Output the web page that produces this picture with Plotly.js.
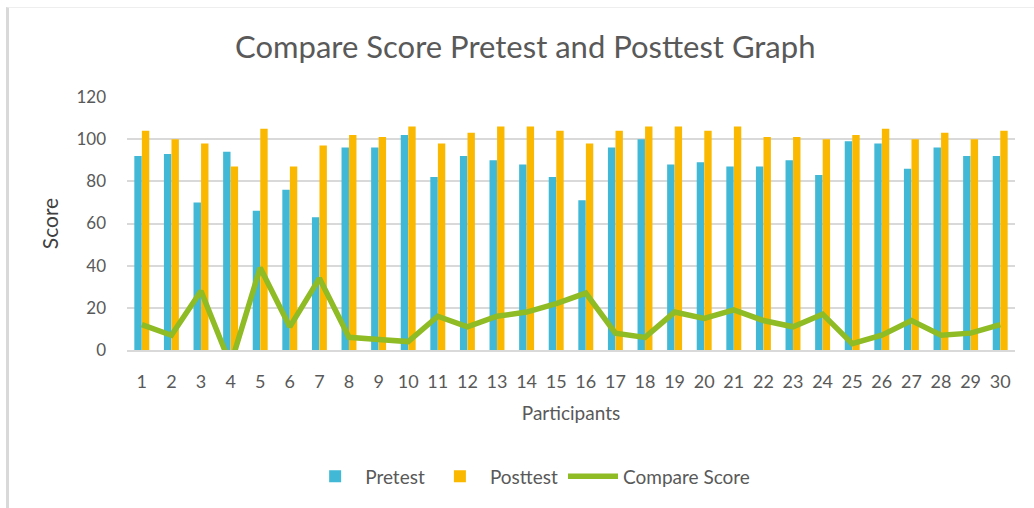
<!DOCTYPE html>
<html>
<head>
<meta charset="utf-8">
<script src="https://cdn.plot.ly/plotly-3.0.1.min.js"></script>
<style>
html, body { margin: 0; padding: 0; background: #ffffff; }
#frame { position: absolute; left: 6px; top: 7px; width: 1040px; height: 520px; border-left: 3px solid #d9d9d9; border-top: 1px solid #eeeeee; pointer-events: none; }
#chart { width: 1034px; height: 508px; }
</style>
</head>
<body>
<div id="chart"></div>
<div id="frame"></div>
<script>
const participants = ["1","2","3","4","5","6","7","8","9","10","11","12","13","14","15","16","17","18","19","20","21","22","23","24","25","26","27","28","29","30"];
const pretest  = [92,93,70,94,66,76,63,96,96,102,82,92,90,88,82,71,96,100,88,89,87,87,90,83,99,98,86,96,92,92];
const posttest = [104,100,98,87,105,87,97,102,101,106,98,103,106,106,104,98,104,106,106,104,106,101,101,100,102,105,100,103,100,104];
const compareScore = [12,7,28,-7,39,11,34,6,5,4,16,11,16,18,22,27,8,6,18,15,19,14,11,17,3,7,14,7,8,12];
const yTicks = [0,20,40,60,80,100,120];

const font = "Lato, 'Open Sans', sans-serif";
const grey = "#595959";

const traces = [
  { type: "bar", name: "Pretest", x: participants, y: pretest, marker: { color: "#41b8d5" } },
  { type: "bar", name: "Posttest", x: participants, y: posttest, marker: { color: "#fbb800" } },
  { type: "scatter", mode: "lines", name: "Compare Score", x: participants, y: compareScore,
    line: { color: "#8fbb25", width: 5.5 } }
];

const layout = {
  width: 1034, height: 508,
  margin: { l: 127, r: 19, t: 97, b: 155 },
  paper_bgcolor: "#ffffff", plot_bgcolor: "#ffffff",
  font: { family: font, color: grey, size: 16 },
  title: { text: "Compare Score Pretest and Posttest Graph", x: 0.508, xanchor: "center", y: 0.907, yanchor: "middle",
           font: { family: font, size: 31, color: grey } },
  barmode: "group", bargap: 0.49, bargroupgap: 0.02,
  xaxis: { type: "category", title: { text: "Participants", font: { size: 19, color: grey }, standoff: 16 },
           showgrid: false, showline: true, linecolor: "#d9d9d9", linewidth: 2,
           ticks: "", ticklabelstandoff: 14, tickfont: { size: 18, color: grey } },
  yaxis: { range: [0, 120], tickvals: yTicks, title: { text: "Score", font: { size: 21, color: "#404040" }, standoff: 12 },
           showgrid: true, gridcolor: "#d9d9d9", gridwidth: 2, zeroline: false, showline: false,
           ticks: "", ticklabelstandoff: 20, tickfont: { size: 17, color: grey }, fixedrange: true },
  legend: { orientation: "h", x: 0.454, xanchor: "center", y: -0.5, yanchor: "middle",
            font: { size: 19, color: grey }, itemwidth: 50, traceorder: "normal" },
  showlegend: true
};

Plotly.newPlot("chart", traces, layout, { staticPlot: true, displayModeBar: false });
</script>
</body>
</html>
